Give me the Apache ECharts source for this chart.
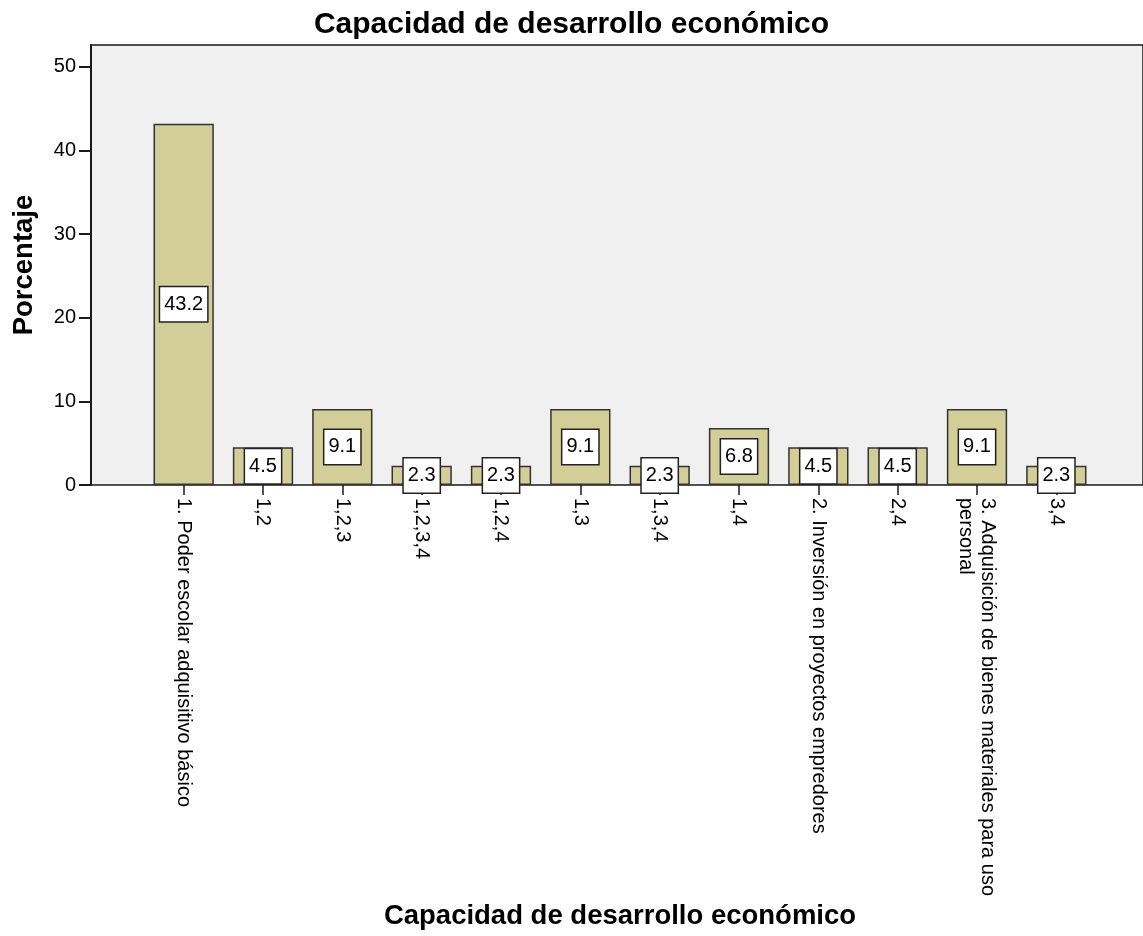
<!DOCTYPE html>
<html>
<head>
<meta charset="utf-8">
<script src="https://cdn.jsdelivr.net/npm/echarts@6/dist/echarts.min.js"></script>
<style>
html,body{margin:0;padding:0;background:#fff;}
#chart{width:1143px;height:936px;}
</style>
</head>
<body>
<div id="chart"></div>
<script>
var categories = [
  "1. Poder escolar adquisitivo básico",
  "1,2",
  "1,2,3",
  "1,2,3,4",
  "1,2,4",
  "1,3",
  "1,3,4",
  "1,4",
  "2. Inversión en proyectos empredores",
  "2,4",
  "3. Adquisición de bienes materiales para uso\npersonal",
  "3,4"
];
var percentages = [43.2, 4.5, 9.1, 2.3, 2.3, 9.1, 2.3, 6.8, 4.5, 4.5, 9.1, 2.3];
var yTicks = [0, 10, 20, 30, 40, 50];
var titleText = "Capacidad de desarrollo económico";
var xName = "Capacidad de desarrollo económico";
var yName = "Porcentaje";

var FONT = "'Liberation Sans', Arial, sans-serif";
var YMAX = 52.6;

var chart = echarts.init(document.getElementById('chart'));
chart.setOption({
  animation: false,
  backgroundColor: '#ffffff',
  title: {
    text: titleText,
    left: 'center',
    top: 5,
    textStyle: {fontFamily: FONT, fontSize: 30, fontWeight: 'bold', color: '#000'}
  },
  grid: [
    {left: 91, right: -2, top: 45, bottom: 451, show: true, backgroundColor: '#f0f0f0',
     borderColor: '#1a1a1a', borderWidth: 1.5},
    {left: 144, right: 47, top: 45, bottom: 451}
  ],
  xAxis: [
    {type: 'value', gridIndex: 0, show: false, min: 0, max: 1},
    {type: 'category', gridIndex: 1, data: categories,
     axisLine: {show: false},
     axisTick: {show: true, alignWithLabel: true, length: 10, lineStyle: {color: '#1a1a1a', width: 1.5}},
     axisLabel: {interval: 0, rotate: -90, margin: 13, fontFamily: FONT, fontSize: 20, color: '#000', lineHeight: 22},
     name: xName, nameLocation: 'middle', nameGap: 417,
     nameTextStyle: {fontFamily: FONT, fontSize: 27.5, fontWeight: 'bold', color: '#000'}
    }
  ],
  yAxis: [
    {type: 'value', gridIndex: 0, min: 0, max: YMAX,
     axisLine: {show: true, lineStyle: {color: '#1a1a1a', width: 2}},
     axisTick: {show: true, length: 12, customValues: yTicks, lineStyle: {color: '#1a1a1a', width: 2}},
     axisLabel: {customValues: yTicks, margin: 15, fontFamily: FONT, fontSize: 20, color: '#000'},
     splitLine: {show: false},
     name: yName, nameLocation: 'middle', nameGap: 53,
     nameTextStyle: {fontFamily: FONT, fontSize: 27.5, fontWeight: 'bold', color: '#000'}
    },
    {type: 'value', gridIndex: 1, min: 0, max: YMAX, show: false}
  ],
  series: [{
    type: 'bar',
    xAxisIndex: 1,
    yAxisIndex: 1,
    data: percentages,
    barWidth: '76%',
    itemStyle: {color: '#d3ce97', borderColor: '#333333', borderWidth: 1.5},
    label: {
      show: true,
      position: 'inside',
      formatter: function (p) { return p.value.toFixed(1); },
      fontFamily: FONT,
      fontSize: 20,
      lineHeight: 22,
      color: '#000',
      backgroundColor: '#ffffff',
      borderColor: '#222222',
      borderWidth: 1.5,
      padding: [6, 4, 6, 4]
    }
  }]
});
</script>
</body>
</html>
